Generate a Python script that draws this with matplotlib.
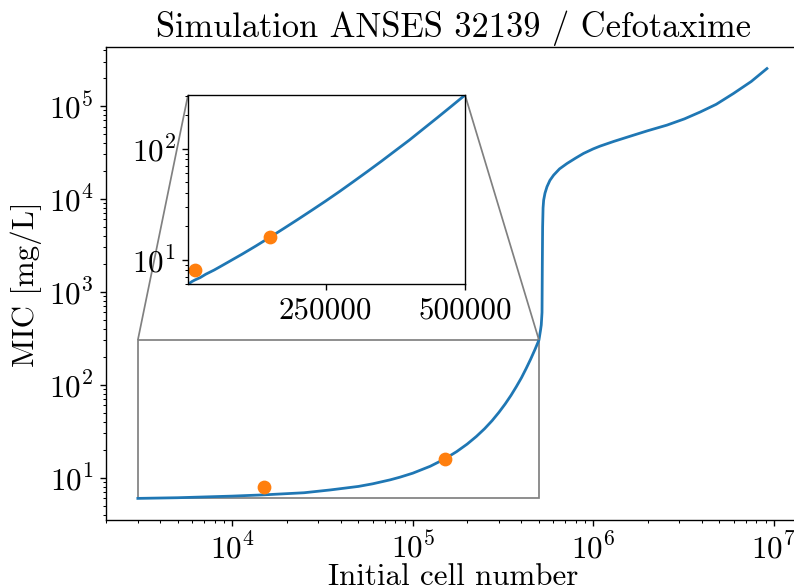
import matplotlib
matplotlib.use('Agg')
import matplotlib.pyplot as plt
from mpl_toolkits.axes_grid1.inset_locator import mark_inset

# Simulated MIC curve
cell_number = [3000, 5000, 10000, 15000, 25000, 35000, 50000, 60000, 75000,
               85000, 100000, 125000, 150000, 175000, 200000, 225000, 250000,
               275000, 300000, 325000, 350000, 375000, 400000, 425000, 450000,
               475000, 500000, 510000, 515000, 520000, 522000, 524000, 527000,
               531000, 540000, 554000, 575000, 603000, 650000, 715000, 800000,
               883000, 1000000, 1090000, 1300000, 1670000, 2000000, 2560000,
               3200000, 3920000, 4800000, 5980000, 7500000, 9160000]
mic = [6.0, 6.1, 6.35, 6.55, 6.9, 7.4, 8.07, 8.61, 9.5,
       10.15, 11.2, 13.3, 15.9, 19.1, 23.0, 27.8, 33.7,
       41.1, 50.5, 62.2, 76.9, 95.7, 119, 150, 189,
       239, 303, 385, 440, 600, 2000, 5000, 8000,
       9700, 11500, 13500, 15800, 18000, 21000, 24000, 27500,
       30800, 34500, 36900, 41500, 48400, 54000, 62100,
       72500, 86100, 104000, 136000, 183000, 252000]

# Measured points
obs_cells = [15000, 150000]
obs_mic = [8.0, 16.0]

plt.rcParams['font.family'] = 'serif'
plt.rcParams['font.serif'] = ['cmr10']
plt.rcParams['mathtext.fontset'] = 'cm'
plt.rcParams['axes.formatter.use_mathtext'] = True
plt.rcParams['font.size'] = 18

fig = plt.figure(figsize=(794 / 124, 588 / 124), dpi=124)
ax = fig.add_axes([0.1329, 0.1148, 0.876, 0.8053])

ax.plot(cell_number, mic, color='#1f77b4', lw=1.6)
ax.plot(obs_cells, obs_mic, 'o', color='#ff7f0e', ms=7)
ax.set_xscale('log')
ax.set_yscale('log')
ax.set_xlim(10 ** 3.298, 10 ** 7.151)
ax.set_ylim(3.47, 4.3e5)
ax.set_xlabel('Initial cell number', fontsize=18, labelpad=-1)
ax.set_ylabel('MIC [mg/L]', fontsize=18)
ax.set_title('Simulation ANSES 32139 / Cefotaxime', fontsize=20)

# zoomed inset with linear x axis
axins = fig.add_axes([0.2368, 0.5165, 0.3489, 0.3219])
axins.plot(cell_number, mic, color='#1f77b4', lw=1.6)
axins.plot(obs_cells, obs_mic, 'o', color='#ff7f0e', ms=7)
axins.set_yscale('log')
axins.set_xlim(3000, 500000)
axins.set_ylim(6.0, 303)
axins.set_xticks([250000, 500000])
axins.set_xticklabels(['250000', '500000'])

mark_inset(ax, axins, loc1=2, loc2=1, fc='none', ec='0.5')

fig.savefig('out.png', dpi=124)
